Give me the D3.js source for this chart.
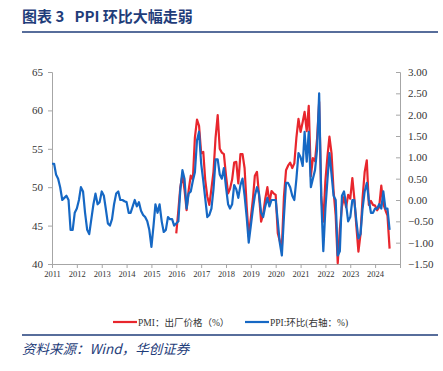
<!DOCTYPE html>
<html>
<head>
<meta charset="utf-8">
<script src="https://cdn.jsdelivr.net/npm/d3@7"></script>
<style>
  body { margin: 0; background: #fff; }
  svg { display: block; }
</style>
</head>
<body>
<svg id="chart" width="443" height="371"></svg>
<script>
// PPI 环比 (right axis), monthly from 2011-01
var ppiStart = [2011, 0];
var ppiMoM = [
  0.85, 0.85, 0.6, 0.5, 0.3, 0.0, 0.05, 0.1, 0.0, -0.7, -0.7, -0.3,      // 2011
  -0.2, 0.0, 0.3, 0.2, -0.3, -0.7, -0.8, -0.45, -0.1, 0.15, -0.1, -0.05, // 2012
  0.2, 0.1, -0.2, -0.55, -0.6, -0.45, -0.1, 0.15, 0.2, 0.0, 0.0, -0.03,  // 2013
  -0.05, -0.3, -0.3, -0.15, 0.0, -0.15, -0.05, -0.25, -0.35, -0.4, -0.5, -0.7, // 2014
  -1.1, -0.6, -0.1, -0.3, -0.1, -0.5, -0.75, -0.7, -0.4, -0.45, -0.45, -0.6,   // 2015
  -0.55, -0.5, 0.25, 0.7, 0.5, -0.2, 0.15, 0.2, 0.45, 0.65, 1.4, 1.6,    // 2016
  0.85, 0.45, 0.05, -0.4, -0.35, -0.2, 0.25, 0.95, 0.95, 0.6, 0.5, 0.75, // 2017
  0.3, -0.1, -0.2, -0.1, 0.35, 0.25, 0.05, 0.35, 0.5, 0.1, -0.4, -1.0,   // 2018
  -0.6, -0.2, 0.1, 0.3, 0.15, -0.3, -0.4, -0.15, 0.05, -0.15, 0.0, 0.0,  // 2019
  0.0, -0.5, -1.0, -1.3, -0.4, 0.4, 0.4, 0.3, 0.1, 0.0, 0.5, 1.1,        // 2020
  1.0, 0.8, 1.6, 0.9, 1.6, 0.3, 0.5, 0.7, 1.2, 2.5, 0.0, -1.2,           // 2021
  -0.2, 0.5, 1.1, 0.6, 0.1, 0.0, -1.3, -1.2, 0.1, 0.2, -0.1, -0.5,       // 2022
  -0.4, 0.0, 0.0, -0.5, -0.9, -0.8, -0.2, 0.2, 0.4, 0.0, -0.3, -0.3,     // 2023
  -0.2, -0.2, -0.1, -0.2, 0.2, -0.2, -0.2, -0.7                          // 2024
];

// PMI 出厂价格 (left axis), monthly from 2016-01
var pmiStart = [2016, 0];
var pmiPrice = [
  44.0, 47.0, 50.0, 51.6, 49.7, 47.0, 49.6, 51.5, 51.0, 56.5, 58.8, 58.0, // 2016
  54.4, 54.6, 51.0, 48.8, 47.7, 49.8, 52.0, 56.5, 59.4, 55.0, 54.5, 54.3, // 2017
  51.5, 49.2, 49.8, 51.0, 53.2, 53.3, 50.5, 54.3, 54.3, 52.5, 47.5, 43.6, // 2018
  46.0, 48.5, 51.5, 52.0, 49.0, 45.5, 46.5, 48.5, 50.0, 48.0, 49.5, 49.2, // 2019
  49.0, 44.0, 43.0, 42.2, 48.7, 52.2, 52.8, 53.2, 52.5, 53.1, 56.5, 58.9, // 2020
  57.2, 58.5, 59.8, 57.3, 60.6, 51.4, 53.8, 53.4, 56.4, 61.1, 48.9, 45.5, // 2021
  50.9, 54.1, 56.6, 54.4, 49.5, 46.3, 40.1, 44.5, 47.5, 48.7, 47.4, 49.0, // 2022
  48.5, 51.2, 48.6, 44.9, 41.6, 43.9, 48.6, 52.0, 53.5, 47.7, 48.2, 47.7, // 2023
  47.6, 47.0, 47.4, 50.2, 47.8, 47.0, 46.3, 42.0                          // 2024
];

var yearTicks = d3.range(2011, 2026);
var leftTicks = [40, 45, 50, 55, 60, 65];
var rightTicks = [-1.5, -1.0, -0.5, 0, 0.5, 1.0, 1.5, 2.0, 2.5, 3.0];

var navy = '#1f3d7a', red = '#e8262d', blue = '#1668c4', axisGrey = '#a6a6a6';

var svg = d3.select('#chart');

var x = d3.scaleTime()
  .domain([new Date(2011, 0, 1), new Date(2025, 0, 1)])
  .range([52, 400]);
var yL = d3.scaleLinear().domain([40, 65]).range([264, 72]);
var yR = d3.scaleLinear().domain([-1.5, 3]).range([264, 72]);

function toSeries(start, vals) {
  return vals.map(function(v, i) {
    return { date: new Date(start[0], start[1] + i, 1), v: v };
  });
}
var ppiData = toSeries(ppiStart, ppiMoM),
    pmiData = toSeries(pmiStart, pmiPrice);

// title + rules
svg.append('text')
   .attr('x', 22).attr('y', 22)
   .attr('fill', navy)
   .style('white-space', 'pre')
   .attr('font-family', '"Noto Sans CJK SC", sans-serif')
   .attr('font-weight', 'bold')
   .attr('font-size', 15)
   .text('图表 3   PPI 环比大幅走弱');
svg.append('line').attr('x1', 22).attr('x2', 438).attr('y1', 32).attr('y2', 32)
   .attr('stroke', navy).attr('stroke-width', 1.5);
svg.append('line').attr('x1', 22).attr('x2', 438).attr('y1', 335).attr('y2', 335)
   .attr('stroke', navy).attr('stroke-width', 1.5);
svg.append('text')
   .attr('x', 22).attr('y', 354)
   .attr('fill', navy)
   .attr('font-family', '"Noto Sans CJK SC", serif')
   .attr('font-style', 'italic')
   .attr('font-size', 13.5)
   .text('资料来源：Wind，华创证券');

// axes
var tickFont = '"Liberation Serif", "Times New Roman", serif';

var gL = svg.append('g').attr('transform', 'translate(52,0)')
  .call(d3.axisLeft(yL).tickValues(leftTicks).tickSize(4).tickPadding(5));
var gR = svg.append('g').attr('transform', 'translate(400,0)')
  .call(d3.axisRight(yR).tickValues(rightTicks).tickSize(-4).tickPadding(8)
    .tickFormat(d3.format('.2f')));
var gX = svg.append('g').attr('transform', 'translate(0,264)')
  .call(d3.axisBottom(x)
    .tickValues(yearTicks.map(function(yy) { return new Date(yy, 0, 1); }))
    .tickSize(4).tickPadding(3)
    .tickFormat(function(d) { return d.getFullYear() < 2025 ? d.getFullYear() : ''; }));

[gL, gR, gX].forEach(function(g) {
  g.select('.domain').attr('stroke', axisGrey);
  g.selectAll('.tick line').attr('stroke', axisGrey);
  g.selectAll('text').attr('fill', '#333').attr('font-family', tickFont);
});
gL.selectAll('text').attr('font-size', 11);
gR.selectAll('text').attr('font-size', 11);
gX.selectAll('text').attr('font-size', 8.5);

// lines, PPI drawn on top
var lineL = d3.line().x(function(d) { return x(d.date); }).y(function(d) { return yL(d.v); });
var lineR = d3.line().x(function(d) { return x(d.date); }).y(function(d) { return yR(d.v); });

svg.append('path').datum(pmiData)
   .attr('d', lineL).attr('fill', 'none')
   .attr('stroke', red).attr('stroke-width', 2.2).attr('stroke-linejoin', 'round');
svg.append('path').datum(ppiData)
   .attr('d', lineR).attr('fill', 'none')
   .attr('stroke', blue).attr('stroke-width', 2.2).attr('stroke-linejoin', 'round');

// legend
var legend = [
  { label: 'PMI：出厂价格（%）', color: red, x: 113 },
  { label: 'PPI:环比(右轴：%)', color: blue, x: 245 }
];
var lg = svg.selectAll('.legend').data(legend).enter().append('g')
  .attr('class', 'legend')
  .attr('transform', function(d) { return 'translate(' + d.x + ',322)'; });
lg.append('line').attr('x1', 0).attr('x2', 24).attr('y1', 0).attr('y2', 0)
  .attr('stroke', function(d) { return d.color; }).attr('stroke-width', 2.2);
lg.append('text').attr('x', 25).attr('y', 3.5)
  .attr('font-family', '"Liberation Serif", "Noto Sans CJK SC", serif')
  .attr('font-size', 9.5).attr('fill', '#333')
  .text(function(d) { return d.label; });
</script>
</body>
</html>
